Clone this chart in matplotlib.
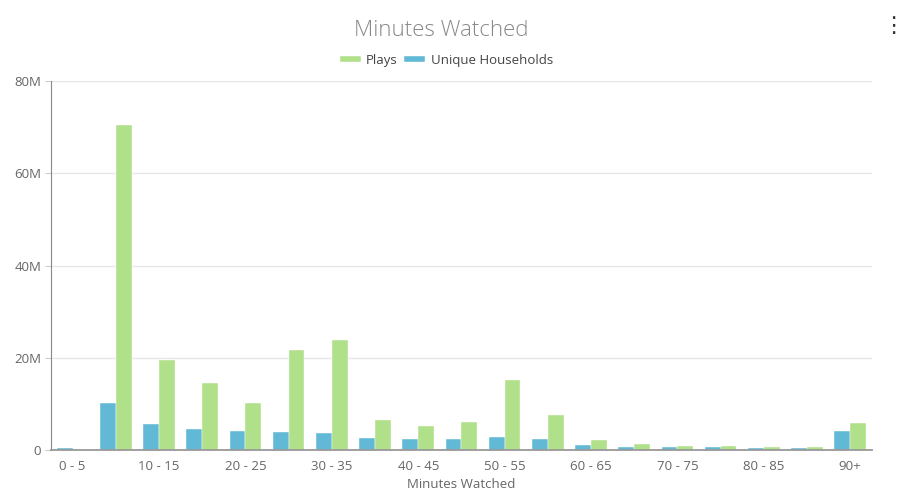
import numpy as np
import matplotlib.pyplot as plt
from matplotlib.ticker import FuncFormatter

plt.rcParams['font.family'] = ['Open Sans', 'DejaVu Sans']

# bins of minutes watched
categories = ['0 - 5', '5 - 10', '10 - 15', '15 - 20', '20 - 25', '25 - 30', '30 - 35',
              '35 - 40', '40 - 45', '45 - 50', '50 - 55', '55 - 60', '60 - 65', '65 - 70',
              '70 - 75', '75 - 80', '80 - 85', '85 - 90', '90+']
# values in millions
households = [0.4, 10.2, 5.6, 4.5, 4.05, 3.9, 3.76, 2.6, 2.4, 2.3, 2.8, 2.3,
              1.15, 0.7, 0.57, 0.57, 0.5, 0.36, 4.1]
plays = [0.0, 70.5, 19.5, 14.6, 10.3, 21.7, 23.8, 6.6, 5.1, 6.1, 15.2, 7.5,
         2.2, 1.2, 0.8, 0.8, 0.7, 0.57, 5.9]

green = '#b1e08a'
blue = '#62b9d5'
grey = '#666666'

fig = plt.figure(figsize=(9.07, 4.96), dpi=100)
ax = fig.add_axes([0.0562, 0.0927, 0.905, 0.744])

x = np.arange(len(categories))
w = 0.365
ax.bar(x - w / 2, np.array(households) * 1e6, w, color=blue, edgecolor='white', linewidth=0.3,
       label='Unique Households', zorder=3)
ax.bar(x + w / 2, np.array(plays) * 1e6, w, color=green, edgecolor='white', linewidth=0.3,
       label='Plays', zorder=3)

ax.set_xlim(-0.5, len(categories) - 0.5)
ax.set_ylim(0, 80e6)
ax.set_yticks([0, 20e6, 40e6, 60e6, 80e6])
ax.yaxis.set_major_formatter(FuncFormatter(lambda v, p: '0' if v == 0 else '%dM' % (v / 1e6)))
ax.set_xticks(x[::2])
ax.set_xticklabels(categories[::2])

ax.grid(axis='y', color='#e6e6e6', linewidth=1, zorder=0)
for s in ['top', 'right']:
    ax.spines[s].set_visible(False)
ax.spines['left'].set_color('#888888')
ax.spines['bottom'].set_color('#999999')
ax.spines['bottom'].set_linewidth(1.3)
ax.spines['bottom'].set_zorder(4)
ax.tick_params(axis='y', length=4, color='#cccccc', labelsize=9.5, labelcolor=grey, pad=3)
ax.tick_params(axis='x', length=0, labelsize=9.5, labelcolor=grey, pad=7)

ax.set_xlabel('Minutes Watched', fontsize=9.5, color=grey, labelpad=4)
fig.text(0.486, 0.938, 'Minutes Watched', ha='center', va='center', fontsize=16,
         color='#888888', fontweight='light')

handles, labels = ax.get_legend_handles_labels()
leg = fig.legend(handles[::-1], labels[::-1], loc='center', bbox_to_anchor=(0.492, 0.879),
                 ncol=2, frameon=False, fontsize=9.5, handlelength=1.6, handleheight=0.35,
                 columnspacing=0.5, handletextpad=0.4)
for t in leg.get_texts():
    t.set_color('#444444')

fig.text(0.985, 0.948, '\u22ee', ha='center', va='center', fontsize=16, color='#333333',
         family='DejaVu Sans')

fig.savefig('out.png', dpi=100)
